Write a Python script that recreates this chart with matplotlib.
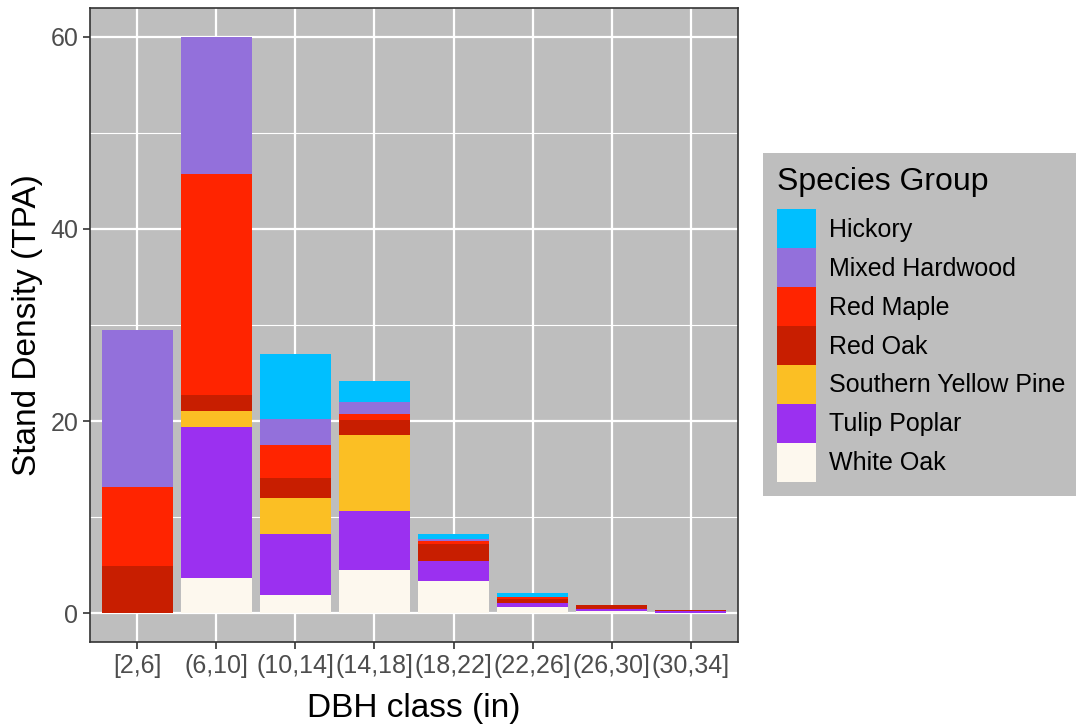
import matplotlib
matplotlib.use('Agg')
import matplotlib.pyplot as plt
from matplotlib.patches import Patch
import numpy as np

classes = ['[2,6]', '(6,10]', '(10,14]', '(14,18]', '(18,22]', '(22,26]', '(26,30]', '(30,34]']

# stacked from the bottom up
white_oak = [0, 3.7, 1.9, 4.5, 3.4, 0.6, 0.2, 0.05]
tulip_poplar = [0, 15.7, 6.3, 6.1, 2.0, 0.5, 0.2, 0.15]
southern_yellow_pine = [0, 1.6, 3.8, 7.9, 0, 0, 0, 0]
red_oak = [4.9, 1.7, 2.1, 1.6, 1.8, 0.35, 0.45, 0.15]
red_maple = [8.2, 23.0, 3.4, 0.6, 0.3, 0.2, 0, 0]
mixed_hardwood = [16.4, 14.3, 2.7, 1.3, 0.2, 0, 0, 0]
hickory = [0, 0, 6.8, 2.2, 0.5, 0.5, 0, 0]

species = ['Hickory', 'Mixed Hardwood', 'Red Maple', 'Red Oak',
           'Southern Yellow Pine', 'Tulip Poplar', 'White Oak']
colors = {
    'Hickory': '#00BFFF',
    'Mixed Hardwood': '#9370DB',
    'Red Maple': '#FF2400',
    'Red Oak': '#C81E00',
    'Southern Yellow Pine': '#FBBF24',
    'Tulip Poplar': '#9B30F0',
    'White Oak': '#FDF8EE',
}


def plot():
    """stacked bar chart"""
    plt.rcParams['font.family'] = ['Liberation Sans', 'DejaVu Sans']
    fig = plt.figure(figsize=(10.76, 7.28), dpi=100)
    ax = fig.add_axes([90 / 1076, 1 - 642 / 728, 648 / 1076, 634 / 728])
    ax.set_facecolor('#BEBEBE')

    x = np.arange(len(classes))
    stack = [('White Oak', white_oak), ('Tulip Poplar', tulip_poplar),
             ('Southern Yellow Pine', southern_yellow_pine), ('Red Oak', red_oak),
             ('Red Maple', red_maple), ('Mixed Hardwood', mixed_hardwood),
             ('Hickory', hickory)]
    bottom = np.zeros(len(classes))
    for name, vals in stack:
        vals = np.array(vals, dtype=float)
        ax.bar(x, vals, width=0.9, bottom=bottom, color=colors[name], lw=0, zorder=3)
        bottom += vals

    ax.set_xlim(-0.6, len(classes) - 0.4)
    ax.set_ylim(-3, 63)
    ax.set_xticks(x)
    ax.set_xticklabels(classes)
    ax.set_yticks([0, 20, 40, 60])
    ax.set_yticks([10, 30, 50], minor=True)
    ax.grid(which='major', color='white', lw=1.6, zorder=1)
    ax.grid(which='minor', axis='y', color='white', lw=0.8, zorder=1)
    ax.tick_params(which='major', colors='#333333', labelcolor='#4D4D4D',
                   labelsize=18, length=5, width=1.2)
    ax.tick_params(which='minor', length=0)
    for s in ax.spines.values():
        s.set_color('#333333')
        s.set_linewidth(1.2)
        s.set_zorder(4)

    ax.set_xlabel('DBH class (in)', fontsize=24, labelpad=11)
    ax.set_ylabel('Stand Density (TPA)', fontsize=24, labelpad=0)
    ax.yaxis.set_label_coords(-0.072, 0.5)

    handles = [Patch(facecolor=colors[s], edgecolor='none') for s in species]
    leg = fig.legend(handles, species, title='Species Group',
                     loc='upper left', bbox_to_anchor=(763 / 1076, 1 - 153 / 728),
                     borderaxespad=0, fontsize=18, title_fontsize=23,
                     handlelength=1.56, handleheight=2.02, labelspacing=0,
                     handletextpad=0.52, borderpad=0.55, frameon=True,
                     fancybox=False)
    leg.get_frame().set_facecolor('#BEBEBE')
    leg.get_frame().set_edgecolor('none')
    leg.get_frame().set_alpha(1)
    leg._legend_box.align = 'left'
    leg._legend_box.sep = 9

    fig.savefig('out.png', dpi=100, facecolor='white')


if __name__ == '__main__':
    plot()
